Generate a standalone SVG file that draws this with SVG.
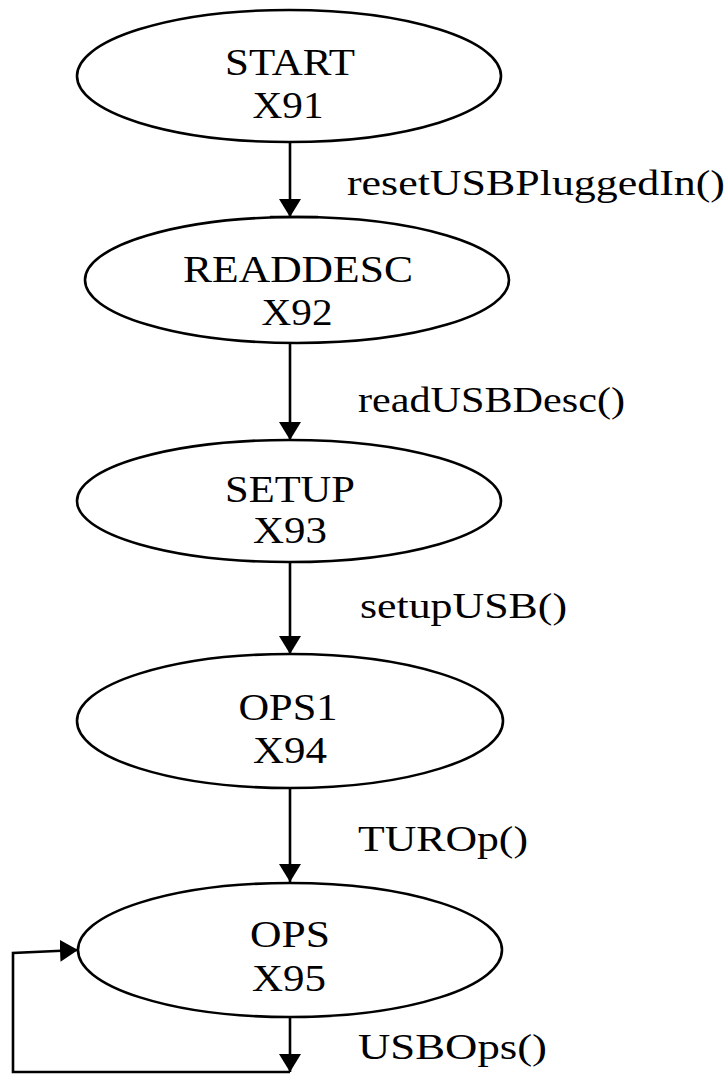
<svg xmlns="http://www.w3.org/2000/svg" width="727" height="1074" viewBox="0 0 727 1074">
  <style>
    .state { fill: #ffffff; stroke: #000000; stroke-width: 2.6; }
    .name { font-family: "Liberation Serif", "Times New Roman", serif; font-size: 38px; fill: #000000; text-anchor: middle; }
    .label { font-family: "Liberation Serif", "Times New Roman", serif; font-size: 36px; fill: #000000; }
    .edge { fill: none; stroke: #000000; stroke-width: 2.6; }
  </style>
  <defs>
    <marker id="arrow" markerUnits="userSpaceOnUse" viewBox="0 0 18 22" refX="18" refY="11" markerWidth="18" markerHeight="22" orient="auto">
      <path d="M0,0 L18,11 L0,22 Z" fill="#000000"/>
    </marker>
  </defs>
  <rect width="727" height="1074" fill="#ffffff"/>

  <!-- transitions -->
  <g id="connectors">
    <path class="edge" d="M290,142 V217" marker-end="url(#arrow)"/>
    <path class="edge" d="M290,343 V440" marker-end="url(#arrow)"/>
    <path class="edge" d="M290,562 V654" marker-end="url(#arrow)"/>
    <path class="edge" d="M290,788 V882" marker-end="url(#arrow)"/>
    <path class="edge" d="M290,1017 V1072" marker-end="url(#arrow)"/>
    <path class="edge" d="M290,1072 H13 V953 L78,950" marker-end="url(#arrow)"/>
    <text class="label" x="347" y="195" textLength="378" lengthAdjust="spacingAndGlyphs">resetUSBPluggedIn()</text>
    <text class="label" x="358" y="412" textLength="267" lengthAdjust="spacingAndGlyphs">readUSBDesc()</text>
    <text class="label" x="360" y="618" textLength="207" lengthAdjust="spacingAndGlyphs">setupUSB()</text>
    <text class="label" x="358" y="851" textLength="170" lengthAdjust="spacingAndGlyphs">TUROp()</text>
    <text class="label" x="358" y="1059" textLength="189" lengthAdjust="spacingAndGlyphs">USBOps()</text>
  </g>

  <!-- states -->
  <g id="start">
    <ellipse class="state" cx="289" cy="76" rx="212" ry="66"/>
    <text class="name" x="290" y="75" textLength="130" lengthAdjust="spacingAndGlyphs">START</text>
    <text class="name" x="288" y="118" textLength="71" lengthAdjust="spacingAndGlyphs">X91</text>
  </g>
  <g id="readdesc">
    <ellipse class="state" cx="297" cy="280" rx="212" ry="63"/>
    <line x1="270" y1="217" x2="318" y2="217" stroke="#000000" stroke-width="2.6"/>
    <text class="name" x="298" y="282" textLength="230" lengthAdjust="spacingAndGlyphs">READDESC</text>
    <text class="name" x="297" y="325" textLength="71" lengthAdjust="spacingAndGlyphs">X92</text>
  </g>
  <g id="setup">
    <ellipse class="state" cx="289" cy="501" rx="212" ry="61"/>
    <text class="name" x="290" y="502" textLength="130" lengthAdjust="spacingAndGlyphs">SETUP</text>
    <text class="name" x="290" y="543" textLength="74" lengthAdjust="spacingAndGlyphs">X93</text>
  </g>
  <g id="ops1">
    <ellipse class="state" cx="290" cy="721" rx="213" ry="67"/>
    <text class="name" x="288" y="720" textLength="99" lengthAdjust="spacingAndGlyphs">OPS1</text>
    <text class="name" x="290" y="763" textLength="74" lengthAdjust="spacingAndGlyphs">X94</text>
  </g>
  <g id="ops">
    <ellipse class="state" cx="290" cy="950" rx="212" ry="67"/>
    <text class="name" x="290" y="947" textLength="80" lengthAdjust="spacingAndGlyphs">OPS</text>
    <text class="name" x="289" y="991" textLength="74" lengthAdjust="spacingAndGlyphs">X95</text>
  </g>
</svg>
